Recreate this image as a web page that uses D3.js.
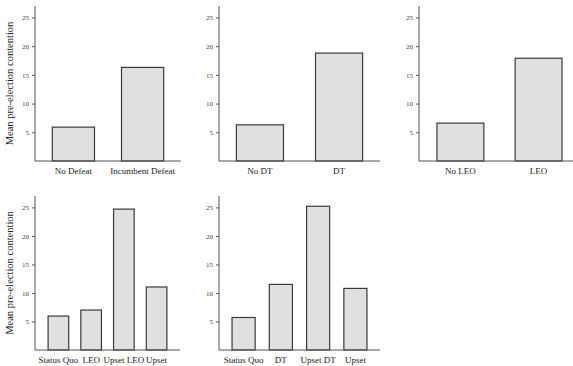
<!DOCTYPE html>
<html>
  <meta charset="utf-8" />
  <style>
    body {
      margin: 0;
      background: #fff;
    }
    .bar {
      fill: #e0e0e0;
      stroke: #3a3a3a;
      stroke-width: 1.2;
    }
    .axis path,
    .axis line {
      stroke: #555;
    }
    .ytick text {
      font-family: "Liberation Serif", serif;
      font-size: 7px;
      fill: #444;
    }
    .xtick text {
      font-family: "Liberation Serif", serif;
      font-size: 9px;
      fill: #222;
    }
    .ylabel {
      font-family: "Liberation Serif", serif;
      font-size: 10.5px;
      fill: #222;
    }
  </style>
  <body>
    <script src="https://d3js.org/d3.v7.min.js"></script>
    <script>
      let width = 573,
        height = 366;

      // values
      let labels1 = ["No Defeat", "Incumbent Defeat"];
      let values1 = [5.9, 16.3];
      let labels2 = ["No DT", "DT"];
      let values2 = [6.3, 18.8];
      let labels3 = ["No LEO", "LEO"];
      let values3 = [6.6, 17.9];
      let labels4 = ["Status Quo", "LEO", "Upset LEO", "Upset"];
      let values4 = [5.95, 7.0, 24.7, 11.05];
      let labels5 = ["Status Quo", "DT", "Upset DT", "Upset"];
      let values5 = [5.7, 11.5, 25.2, 10.8];
      let yTicks = [5, 10, 15, 20, 25];
      let yTitle = "Mean pre-election contention";

      // panel layout
      let panels = [
        { labels: labels1, values: values1, x0: 35, x1: 181, top: 6, base: 161, pi: 0.39, po: 0.25, title: true },
        { labels: labels2, values: values2, x0: 219, x1: 380, top: 6, base: 161, pi: 0.405, po: 0.22, title: false },
        { labels: labels3, values: values3, x0: 419, x1: 580, top: 6, base: 161, pi: 0.4, po: 0.23, title: false },
        { labels: labels4, values: values4, x0: 35, x1: 180, top: 196, base: 350, pi: 0.37, po: 0.4, title: true },
        { labels: labels5, values: values5, x0: 219, x1: 380, top: 196, base: 350, pi: 0.38, po: 0.35, title: false },
      ];

      let svg = d3
        .select("body")
        .append("svg")
        .attr("width", width)
        .attr("height", height);

      function drawPanel(p) {
        let g = svg.append("g");

        let x = d3
          .scaleBand()
          .domain(p.labels)
          .range([p.x0, p.x1])
          .paddingInner(p.pi)
          .paddingOuter(p.po);

        let y = d3.scaleLinear().domain([0, 27]).range([p.base, p.top]);

        g.selectAll(".bar")
          .data(p.labels.map((d, i) => ({ label: d, value: p.values[i] })))
          .join("rect")
          .attr("class", "bar")
          .attr("x", (d) => x(d.label))
          .attr("width", x.bandwidth())
          .attr("y", (d) => y(d.value))
          .attr("height", (d) => p.base - y(d.value));

        g.append("g")
          .attr("class", "axis ytick")
          .attr("transform", "translate(" + p.x0 + ",0)")
          .call(d3.axisLeft(y).tickValues(yTicks).tickSize(3).tickPadding(3).tickSizeOuter(0))
          .call((a) => a.select(".domain").attr("d", "M0," + p.base + "V" + p.top));

        g.append("g")
          .attr("class", "axis xtick")
          .attr("transform", "translate(0," + p.base + ")")
          .call(d3.axisBottom(x).tickSize(0).tickPadding(7))
          .call((a) => a.select(".domain").attr("d", "M" + p.x0 + ",0H" + p.x1));

        if (p.title) {
          g.append("text")
            .attr("class", "ylabel")
            .attr("transform", "translate(13," + (p.top + p.base) / 2 + ") rotate(-90)")
            .attr("text-anchor", "middle")
            .text(yTitle);
        }
      }

      panels.forEach(drawPanel);
    </script>
  </body>
</html>
